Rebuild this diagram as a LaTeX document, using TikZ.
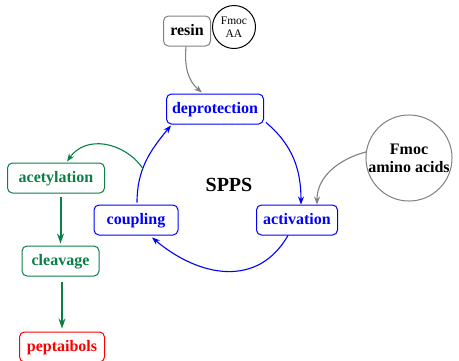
\documentclass[tikz,border=0pt]{standalone}
\usepackage{fontspec}
\setmainfont{Liberation Serif}
\usetikzlibrary{arrows.meta}
\definecolor{cblue}{RGB}{0,0,255}
\definecolor{cgreen}{RGB}{10,128,70}
\definecolor{cred}{RGB}{255,0,0}
\definecolor{cgray}{RGB}{128,128,128}
\begin{document}
\begin{tikzpicture}[x=1pt,y=1pt,
  box/.style={draw,rounded corners=5pt,line width=1pt,font=\fontsize{16}{18}\selectfont\bfseries,
    text height=11.5pt,text depth=3.5pt,minimum height=30pt,inner xsep=3pt},
  bluebox/.style={box,draw=cblue,text=cblue},
  greenbox/.style={box,draw=cgreen,text=cgreen},
  redbox/.style={box,draw=cred,text=cred},
  graybox/.style={box,draw=cgray,text=black},
  bluearrow/.style={draw=cblue,line width=1.1pt,-{Stealth[length=8pt,width=6pt]}},
  greenarrow/.style={draw=cgreen,line width=1.1pt,-{Stealth[length=8pt,width=6pt]}},
  greenthick/.style={draw=cgreen,line width=2pt,-{Stealth[length=10pt,width=7pt]}},
  grayarrow/.style={draw=cgray,line width=1.1pt,-{Stealth[length=8pt,width=6pt]}}
]
\useasboundingbox (0,0) rectangle (459,-360);
\node[graybox,minimum width=47pt] (resin) at (187,-31) {resin};
\node[draw=black,circle,line width=1pt,minimum size=43pt,inner sep=0pt,align=center,
  font=\fontsize{11.5}{13}\selectfont] (fmocAA) at (234,-27) {Fmoc\\AA};
\node[bluebox,minimum width=97pt] (deprot) at (215,-109) {deprotection};
\node[bluebox,minimum width=81pt] (activ) at (297,-220) {activation};
\node[bluebox,minimum width=84pt] (coupl) at (136,-220) {coupling};
\node[font=\fontsize{20}{24}\selectfont\bfseries] (spps) at (229,-185) {SPPS};
\node[draw=cgray,circle,line width=1pt,minimum size=86pt,inner sep=0pt,align=center,
  font=\fontsize{16}{18}\selectfont\bfseries] (fmocaa) at (409,-158) {Fmoc\\amino acids};
\node[greenbox,minimum width=97pt] (acet) at (56,-178) {acetylation};
\node[greenbox,minimum width=77pt] (cleav) at (60.5,-261) {cleavage};
\node[redbox,minimum width=85pt] (pept) at (62,-347) {peptaibols};

\draw[grayarrow] ([xshift=-1pt]resin.south) to[out=-95,in=140] ([xshift=-13pt,yshift=1pt]deprot.north);
\draw[grayarrow] (fmocaa.172) to[out=195,in=90] ([xshift=20pt]activ.north);
\draw[bluearrow] ([xshift=2pt,yshift=2pt]deprot.south east) to[out=-40,in=90] ([xshift=4pt]activ.north);
\draw[bluearrow] ([xshift=-9pt]activ.south) to[out=-120,in=-40,looseness=1.15] ([xshift=16pt,yshift=-2pt]coupl.south);
\draw[bluearrow] ([xshift=1pt,yshift=2pt]coupl.north) to[out=90,in=230] coordinate[pos=0.4] (g) ([xshift=5pt,yshift=-1pt]deprot.south west);
\draw[greenarrow] (g) to[out=125,in=55,looseness=1.1] ([xshift=11pt,yshift=1pt]acet.north);
\draw[greenthick] ([yshift=-3pt]acet.south -| cleav.north) -- ([yshift=2pt]cleav.north);
\draw[greenthick] ([yshift=-5pt]cleav.south -| pept.north) -- ([yshift=3pt]pept.north);
\end{tikzpicture}
\end{document}
